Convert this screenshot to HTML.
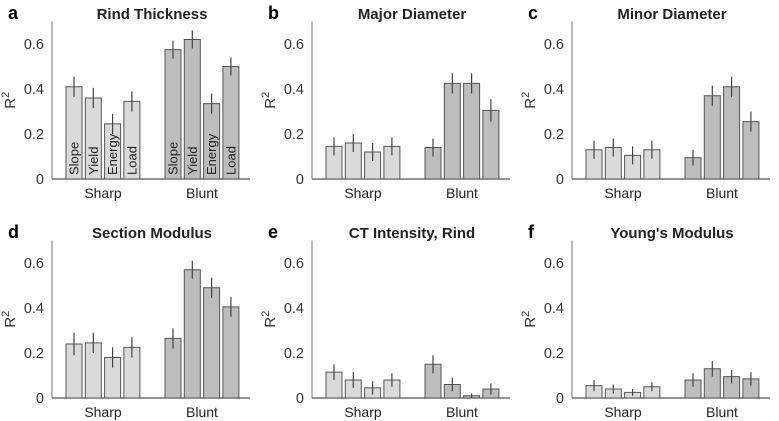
<!DOCTYPE html>
<html><head><meta charset="utf-8"><style>
body{margin:0;background:#fff;width:779px;height:421px;overflow:hidden}
svg{display:block;font-family:"Liberation Sans",Arial,sans-serif}
</style></head><body>
<svg id="c" width="779" height="421"></svg>
<script>
const panelTitles=["Rind Thickness","Major Diameter","Minor Diameter","Section Modulus","CT Intensity, Rind","Young's Modulus"];
const panelLetters=["a","b","c","d","e","f"];
const groups=["Sharp","Blunt"];
const measureLabels=["Slope","Yield","Energy","Load"];
const sharpValues=[[0.41,0.36,0.245,0.345],[0.145,0.16,0.12,0.145],[0.13,0.14,0.105,0.13],[0.24,0.245,0.18,0.225],[0.115,0.08,0.045,0.08],[0.055,0.04,0.025,0.05]];
const bluntValues=[[0.575,0.62,0.335,0.50],[0.14,0.425,0.425,0.305],[0.095,0.37,0.41,0.255],[0.265,0.57,0.49,0.405],[0.15,0.06,0.01,0.04],[0.08,0.13,0.095,0.085]];
const sharpErr=[[0.045,0.045,0.045,0.045],[0.04,0.04,0.04,0.04],[0.04,0.04,0.04,0.04],[0.05,0.045,0.045,0.045],[0.035,0.035,0.03,0.03],[0.025,0.02,0.015,0.02]];
const bluntErr=[[0.04,0.04,0.045,0.04],[0.04,0.045,0.045,0.05],[0.035,0.045,0.045,0.045],[0.045,0.04,0.045,0.045],[0.04,0.03,0.01,0.025],[0.03,0.035,0.03,0.03]];
const yTicks=[0,0.2,0.4,0.6];
const yTickLabels=["0","0.2","0.4","0.6"];
const NS="http://www.w3.org/2000/svg";
const svg=document.getElementById('c');
function mk(tag,attrs,parent,text){const e=document.createElementNS(NS,tag);for(const k in attrs)e.setAttribute(k,attrs[k]);if(text!==undefined)e.textContent=text;(parent||svg).appendChild(e);return e;}
const axX=[52,312,572], zeroY=[179,398];
const pxPer=135/0.6;
for(let p=0;p<6;p++){
  const ax=axX[p%3], y0=zeroY[Math.floor(p/3)];
  const yS=v=>y0-v*pxPer;
  const g=mk('g',{});
  
  
  const lt=mk('text',{x:ax-44,y:y0-160,'font-size':18,'font-weight':'bold',fill:'#000'},g,panelLetters[p]);
  
  const tt=mk('text',{x:ax+100,y:y0-160,'font-size':15,'font-weight':'bold','text-anchor':'middle',fill:'#222'},g,panelTitles[p]);
  
  const ya=mk('line',{x1:ax,y1:yS(0.7),x2:ax,y2:y0,stroke:'#777','stroke-width':1},g);
  
  const xa=mk('line',{x1:ax,y1:y0,x2:ax+198,y2:y0,stroke:'#555','stroke-width':1.3},g);
  
  yTicks.forEach((t,i)=>{
    const tl=mk('text',{x:ax-8,y:yS(t)+5,'font-size':14.5,'text-anchor':'end',fill:'#333'},g,yTickLabels[i]);
    
  });
  const yt=mk('text',{x:0,y:0,'font-size':15,fill:'#333','text-anchor':'middle',transform:`translate(${ax-37},${yS(0.35)}) rotate(-90)`},g);
  
  yt.appendChild(document.createTextNode('R'));
  mk('tspan',{dy:-6,'font-size':11},yt,'2');
  [sharpValues[p],bluntValues[p]].forEach((vals,gi)=>{
    const errs=gi?bluntErr[p]:sharpErr[p];
    const gx=ax+14+gi*99;
    vals.forEach((v,i)=>{
      const x=gx+i*19.3;
      const r=mk('rect',{x:x,y:yS(v),width:16,height:y0-yS(v),fill:gi?'#bdbdbd':'#dadada',stroke:'#555','stroke-width':1},g);
      
      
      const e=mk('line',{x1:x+8,x2:x+8,y1:yS(v+errs[i]),y2:yS(Math.max(0,v-errs[i])),stroke:'#444','stroke-width':1.2},g);
      
      if(p===0){
        const bl=mk('text',{x:0,y:0,'font-size':13,fill:'#222',transform:`translate(${x+12.5},${y0-4}) rotate(-90)`},g,measureLabels[i]);
        
      }
    });
    const gl=mk('text',{x:gx+37,y:y0+19,'font-size':14,'text-anchor':'middle',fill:'#222'},g,groups[gi]);
    
  });
}
</script>
</body></html>
